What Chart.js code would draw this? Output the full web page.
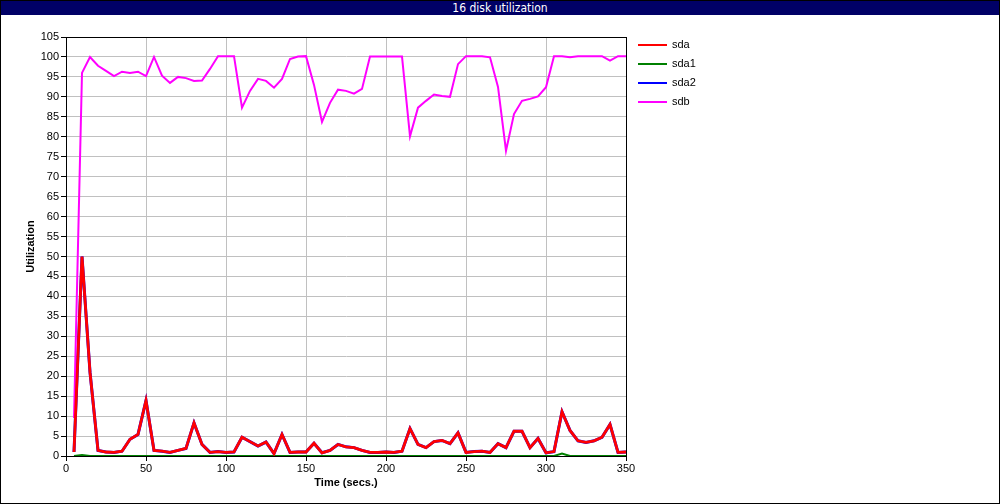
<!DOCTYPE html>
<html>
<head>
<meta charset="utf-8">
<title>16 disk utilization</title>
<script src="https://cdn.jsdelivr.net/npm/chart.js@4.4.0/dist/chart.umd.min.js"></script>
<style>
  * { margin: 0; padding: 0; box-sizing: border-box; }
  body { background: #fff; width: 1000px; height: 504px; overflow: hidden; font-family: "Liberation Sans", Arial, sans-serif; }
  .frame { position: relative; width: 1000px; height: 504px; border: 1px solid #000; }
  .titlebar { position: absolute; left: 0; top: 0; width: 998px; height: 14px; background: #000066; color: #fff;
    font-family: "DejaVu Sans Condensed", "Liberation Sans Narrow", "Liberation Sans", sans-serif; font-stretch: condensed;
    font-size: 12px; line-height: 14px; text-align: center; z-index: 2; }
  canvas { position: absolute; left: -1px; top: -1px; }
  .legend { position: absolute; left: 637px; top: 37px; z-index: 2; font-size: 11px; color: #000; }
  .legend div { height: 19px; line-height: 13px; position: relative; padding-left: 34px; }
  .legend span.sw { position: absolute; left: 0; top: 6px; width: 29px; height: 2px; }
</style>
</head>
<body>
<div class="frame">
  <div class="titlebar">16 disk utilization</div>
  <div class="legend" id="legend"></div>
  <canvas id="chart" width="1000" height="504"></canvas>
</div>
<script>
const times = [];
for (let t = 5; t <= 350; t += 5) times.push(t);

const sda = [1.0, 50, 21, 1.4, 1.0, 0.9, 1.2, 4.2, 5.4, 13.9,
  1.4, 1.2, 0.9, 1.4, 1.9, 8.3, 2.9, 0.9, 1.1, 0.9,
  1.0, 4.7, 3.6, 2.5, 3.5, 0.6, 5.4, 0.9, 1.0, 1.0,
  3.2, 0.8, 1.4, 2.9, 2.3, 2.1, 1.4, 0.9, 0.9, 1.0,
  0.9, 1.2, 6.9, 2.9, 2.1, 3.6, 3.9, 3.1, 5.8, 0.9,
  1.1, 1.2, 0.9, 3.1, 2.1, 6.2, 6.2, 2.1, 4.4, 0.8,
  1.1, 11.1, 6.4, 3.8, 3.4, 3.8, 4.7, 7.9, 0.9, 1.0];

const sda1 = [0, 0.25, 0, 0, 0, 0, 0, 0, 0, 0,
  0, 0, 0, 0, 0, 0, 0, 0, 0, 0,
  0, 0, 0, 0, 0, 0, 0, 0, 0, 0,
  0, 0, 0, 0, 0, 0, 0, 0, 0, 0,
  0, 0, 0, 0, 0, 0, 0, 0, 0, 0,
  0, 0, 0, 0, 0, 0, 0, 0, 0, 0,
  0, 0.6, 0, 0, 0, 0, 0, 0, 0, 0];

// sda2 lies under sda all the way
const sda2 = sda.slice();

const sdb = [9.5, 96, 100, 97.8, 96.5, 95.2, 96.3, 96, 96.3, 95.2,
  100, 95.3, 93.5, 95, 94.7, 94, 94.1, 97, 100.2, 100.2,
  100.2, 87.3, 91.5, 94.5, 94, 92.3, 94.5, 99.5, 100.1, 100.2,
  93, 83.7, 88.5, 91.8, 91.5, 90.8, 92, 100.1, 100.1, 100.1,
  100.1, 100.1, 80.1, 87.3, 89, 90.6, 90.2, 90.0, 98.2, 100.2,
  100.2, 100.2, 99.9, 92.5, 76.5, 85.7, 89, 89.5, 90.1, 92.4,
  100.2, 100.2, 99.9, 100.2, 100.2, 100.2, 100.2, 99.1, 100.2, 100.2];

const seriesNames = ['sda', 'sda1', 'sda2', 'sdb'];
const seriesColors = ['#ff0000', '#008000', '#0000ff', '#ff00ff'];
const seriesData = [sda, sda1, sda2, sdb];
const widths = [2.8, 2, 3, 2];

const yTicks = [];
for (let v = 0; v <= 105; v += 5) yTicks.push(v);
const xTicks = [0, 50, 100, 150, 200, 250, 300, 350];

const tickFont = { family: "'Liberation Sans', Arial, sans-serif", size: 11 };
const titleFont = { family: "'Liberation Sans', Arial, sans-serif", size: 11, weight: 'bold' };

// legend
const leg = document.getElementById('legend');
seriesNames.forEach((n, i) => {
  const d = document.createElement('div');
  d.innerHTML = '<span class="sw" style="background:' + seriesColors[i] + '"></span>' + n;
  leg.appendChild(d);
});

const frameBorder = {
  id: 'frameBorder',
  afterDatasetsDraw(chart) {
    const { ctx, chartArea: a } = chart;
    ctx.save();
    ctx.strokeStyle = '#000';
    ctx.lineWidth = 1;
    ctx.strokeRect(Math.round(a.left) + 0.5, Math.round(a.top) + 0.5, Math.round(a.right - a.left), Math.round(a.bottom - a.top));
    ctx.restore();
  }
};

new Chart(document.getElementById('chart'), {
  type: 'line',
  data: {
    datasets: seriesNames.map((n, i) => ({
      label: n,
      data: times.map((t, k) => ({ x: t, y: seriesData[i][k] })),
      borderColor: seriesColors[i],
      backgroundColor: seriesColors[i],
      borderWidth: widths[i],
      pointRadius: 0,
      tension: 0,
      fill: false,
      order: i === 2 ? 5 : i
    }))
  },
  options: {
    responsive: false,
    animation: false,
    events: [],
    layout: { padding: { left: 1, top: 37, right: 374, bottom: 0 } },
    plugins: { legend: { display: false }, tooltip: { enabled: false } },
    scales: {
      x: {
        type: 'linear', min: 0, max: 350,
        afterBuildTicks: s => { s.ticks = xTicks.map(v => ({ value: v })); },
        afterFit: s => { s.height = 48; },
        grid: { color: '#c0c0c0', tickColor: '#000', tickLength: 5, drawOnChartArea: true },
        border: { color: '#000' },
        ticks: { color: '#000', font: tickFont, padding: 1, maxRotation: 0 },
        title: { display: true, text: 'Time (secs.)', color: '#000', font: titleFont, padding: { top: 0, bottom: 14 } }
      },
      y: {
        type: 'linear', min: 0, max: 105,
        afterBuildTicks: s => { s.ticks = yTicks.map(v => ({ value: v })); },
        afterFit: s => { s.width = 65; },
        grid: { color: '#c0c0c0', tickColor: '#000', tickLength: 5 },
        border: { color: '#000' },
        ticks: { color: '#000', font: tickFont, padding: 2 },
        title: { display: true, text: 'Utilization', color: '#000', font: titleFont, padding: { top: 23, bottom: 0 } }
      }
    }
  },
  plugins: [frameBorder]
});
</script>
</body>
</html>
